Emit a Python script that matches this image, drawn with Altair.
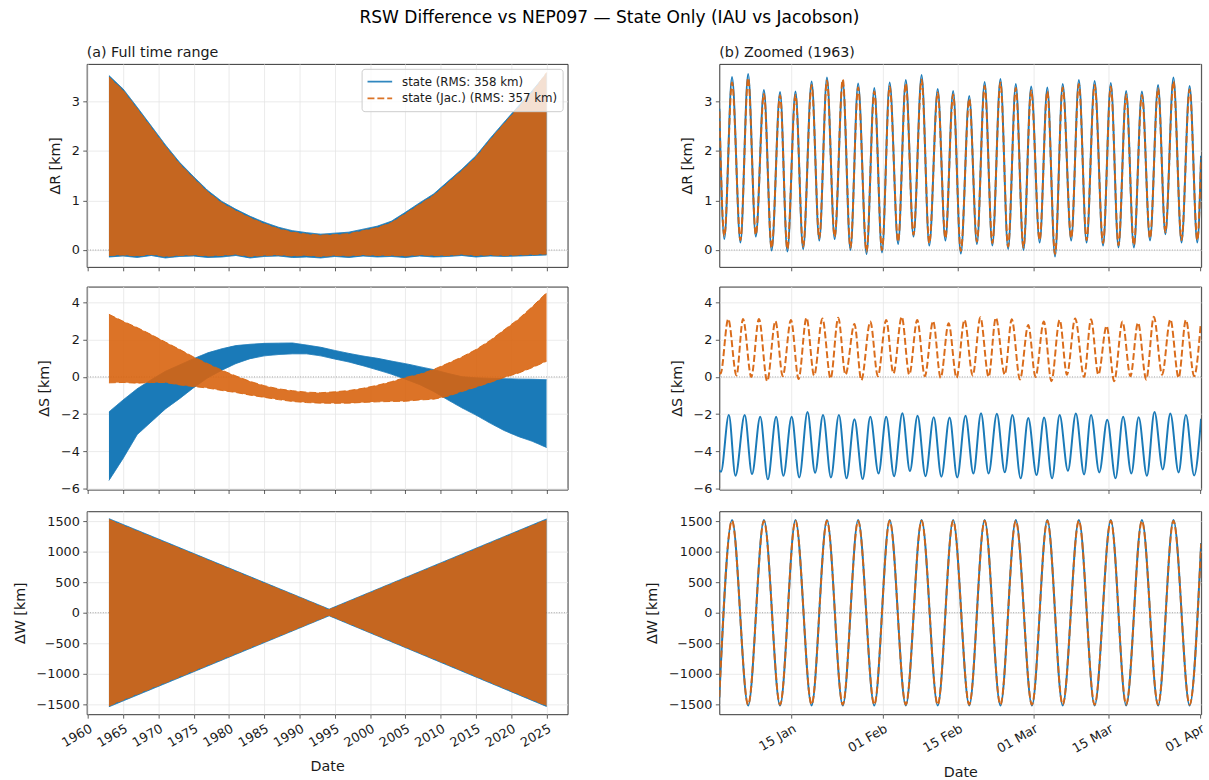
import altair as alt
import pandas as pd

FONT = "DejaVu Sans"
BLUE = "#1a7ab8"
ORANGE = "#d8640f"
NAME_A = "state (RMS: 358 km)"
NAME_B = "state (Jac.) (RMS: 357 km)"

# ---------------- full time range: envelope of the fast oscillation ----------------
env_years = [1963, 1965, 1967, 1969, 1971, 1973, 1975, 1977, 1979, 1981, 1983, 1985,
             1987, 1989, 1991, 1993, 1995, 1997, 1999, 2001, 2003, 2005, 2007, 2009,
             2011, 2013, 2015, 2017, 2019, 2021, 2023, 2025]

# radial
dr_a_hi = [3.52, 3.25, 2.88, 2.50, 2.12, 1.77, 1.48, 1.20, 0.98, 0.82, 0.68, 0.56,
           0.46, 0.39, 0.35, 0.32, 0.34, 0.36, 0.42, 0.48, 0.58, 0.76, 0.95, 1.13,
           1.38, 1.63, 1.90, 2.25, 2.58, 2.90, 3.22, 3.56]
dr_a_lo = [-0.14, -0.12, -0.15, -0.11, -0.16, -0.13, -0.12, -0.15, -0.14, -0.11, -0.16, -0.13,
           -0.12, -0.15, -0.14, -0.16, -0.13, -0.15, -0.12, -0.14, -0.13, -0.15, -0.12, -0.14,
           -0.13, -0.11, -0.14, -0.12, -0.13, -0.12, -0.11, -0.10]
dr_b_hi = [3.49, 3.22, 2.85, 2.47, 2.09, 1.74, 1.45, 1.17, 0.95, 0.79, 0.65, 0.53,
           0.43, 0.36, 0.32, 0.30, 0.31, 0.33, 0.39, 0.45, 0.55, 0.73, 0.92, 1.10,
           1.35, 1.60, 1.87, 2.22, 2.55, 2.87, 3.19, 3.58]
dr_b_lo = [-0.11, -0.10, -0.12, -0.09, -0.13, -0.11, -0.10, -0.12, -0.11, -0.09, -0.13, -0.11,
           -0.10, -0.12, -0.11, -0.13, -0.11, -0.12, -0.10, -0.11, -0.11, -0.12, -0.10, -0.11,
           -0.11, -0.09, -0.11, -0.10, -0.11, -0.10, -0.09, -0.08]

# along-track
ds_a_hi = [-1.88, -1.24, -0.64, -0.15, 0.30, 0.64, 0.98, 1.29, 1.51, 1.68, 1.75, 1.80,
           1.81, 1.82, 1.71, 1.59, 1.42, 1.26, 1.12, 1.00, 0.85, 0.71, 0.55, 0.39,
           0.19, 0.01, -0.05, -0.08, -0.10, -0.12, -0.13, -0.15]
ds_a_lo = [-5.56, -4.38, -3.10, -2.41, -1.72, -1.17, -0.58, -0.05, 0.36, 0.72, 0.98, 1.13,
           1.20, 1.24, 1.24, 1.13, 0.96, 0.80, 0.60, 0.38, 0.15, -0.12, -0.41, -0.78,
           -1.23, -1.66, -2.05, -2.48, -2.88, -3.20, -3.46, -3.79]
ds_b_hi = [3.36, 2.99, 2.65, 2.27, 1.87, 1.48, 1.07, 0.71, 0.36, 0.05, -0.24, -0.47,
           -0.64, -0.74, -0.82, -0.85, -0.80, -0.73, -0.61, -0.45, -0.26, -0.03, 0.14, 0.40,
           0.73, 1.07, 1.47, 1.96, 2.53, 3.10, 3.78, 4.52]
ds_b_lo = [-0.32, -0.30, -0.34, -0.30, -0.30, -0.43, -0.52, -0.60, -0.73, -0.84, -0.98, -1.10,
           -1.22, -1.32, -1.38, -1.41, -1.42, -1.41, -1.37, -1.34, -1.32, -1.31, -1.24, -1.20,
           -1.04, -0.79, -0.55, -0.30, -0.03, 0.20, 0.50, 0.84]

# cross-track (amplitude shrinks to a node and grows again)
dw_years = [1963, 1994.2, 2025]
dw_a_hi = [1540, 58, 1535]
dw_a_lo = [-1540, -50, -1535]
dw_b_hi = [1525, 50, 1522]
dw_b_lo = [-1525, -42, -1522]

# ---------------- zoomed window (days since 1963-01-01), alternating extrema ----------------
dr_days = [0.55, 1.48, 2.91, 4.48, 5.91, 7.34, 8.85, 10.28, 11.85, 13.21,
           14.72, 16.15, 17.72, 19.15, 20.58, 22.01, 23.52, 24.95, 26.38, 27.95,
           29.39, 30.82, 32.25, 33.82, 35.25, 36.68, 38.19, 39.62, 41.19, 42.62,
           44.06, 45.49, 47.06, 48.49, 49.92, 51.36, 52.86, 54.29, 55.72, 57.15,
           58.58, 60.16, 61.59, 63.02, 64.45, 66.03, 67.46, 68.89, 70.39, 71.96,
           73.40, 74.83, 76.26, 77.69, 79.19, 80.70, 82.20, 83.56, 85.06, 86.56,
           88.07, 89.50, 90.20]
dr_a_zoom = [2.85, 0.22, 3.49, 0.15, 3.55, 0.27, 3.23, -0.01, 3.19, -0.03,
             3.20, 0.02, 3.40, 0.19, 3.48, 0.22, 3.40, 0.00, 3.36, -0.08,
             3.27, -0.05, 3.38, 0.12, 3.43, 0.27, 3.53, 0.09, 3.25, 0.19,
             3.21, -0.07, 3.11, 0.12, 3.39, 0.09, 3.45, 0.02, 3.35, 0.00,
             3.30, 0.15, 3.28, -0.13, 3.35, 0.19, 3.43, 0.15, 3.41, 0.09,
             3.37, 0.05, 3.21, 0.05, 3.20, 0.19, 3.33, 0.32, 3.48, 0.15,
             3.31, 0.15, 1.90]
dr_b_zoom = [2.80, 0.28, 3.38, 0.20, 3.47, 0.31, 3.15, 0.04, 3.12, 0.02,
             3.13, 0.07, 3.33, 0.24, 3.42, 0.27, 3.44, 0.05, 3.28, -0.03,
             3.20, 0.00, 3.30, 0.17, 3.36, 0.31, 3.44, 0.14, 3.18, 0.24,
             3.14, -0.02, 3.05, 0.17, 3.31, 0.14, 3.38, 0.07, 3.27, 0.05,
             3.22, 0.20, 3.20, -0.08, 3.28, 0.24, 3.35, 0.20, 3.33, 0.14,
             3.30, 0.10, 3.14, 0.10, 3.13, 0.24, 3.26, 0.36, 3.40, 0.20,
             3.24, 0.20, 1.85]

ds_a_days = [0.54, 0.85, 2.32, 3.55, 5.27, 6.63, 8.16, 9.58, 11.12, 12.47,
             14.01, 15.42, 16.96, 18.37, 19.85, 21.32, 22.80, 24.22, 25.69, 27.23,
             28.64, 30.18, 31.60, 33.07, 34.61, 36.02, 37.44, 38.91, 40.45, 41.87,
             43.40, 44.82, 46.36, 47.83, 49.25, 50.66, 52.20, 53.67, 55.09, 56.63,
             58.04, 59.58, 60.99, 62.47, 63.88, 65.42, 66.90, 68.43, 69.72, 71.26,
             72.74, 74.28, 75.69, 77.23, 78.58, 80.12, 81.53, 83.07, 84.48, 86.02,
             87.38, 88.91, 90.20]
ds_a_zoom = [-5.00, -5.10, -2.04, -5.31, -2.05, -5.22, -2.14, -5.50, -2.14, -5.31,
             -2.14, -5.40, -1.89, -5.15, -2.05, -5.40, -2.04, -5.45, -2.27, -5.49,
             -2.14, -5.19, -2.14, -5.33, -1.95, -5.06, -2.09, -5.33, -2.16, -5.36,
             -2.18, -5.40, -2.09, -5.19, -1.95, -5.19, -1.98, -5.12, -2.05, -5.45,
             -2.21, -5.27, -2.18, -5.45, -2.05, -5.04, -1.96, -5.24, -2.04, -5.13,
             -2.30, -5.45, -2.14, -5.19, -2.16, -5.31, -1.88, -4.97, -1.96, -5.13,
             -2.04, -5.29, -2.25]

ds_b_days = [0.54, 0.78, 2.20, 3.74, 4.96, 6.50, 7.92, 9.46, 10.99, 12.35,
             13.88, 15.30, 16.77, 18.19, 19.73, 21.26, 22.68, 24.03, 25.69, 26.98,
             28.64, 30.06, 31.60, 32.95, 34.49, 35.90, 37.38, 38.79, 40.33, 41.74,
             43.22, 44.70, 46.17, 47.71, 49.12, 50.66, 52.01, 53.67, 54.97, 56.50,
             58.04, 59.39, 60.93, 62.35, 63.88, 65.24, 66.77, 68.43, 69.72, 71.08,
             72.62, 74.03, 75.57, 77.05, 78.46, 80.00, 81.41, 82.95, 84.48, 86.02,
             87.38, 88.91, 90.14]
ds_b_zoom = [0.25, 0.18, 3.11, 0.07, 3.11, 0.00, 3.11, -0.23, 3.00, 0.04,
             3.06, -0.11, 3.18, 0.07, 3.14, -0.09, 3.18, 0.12, 2.84, -0.18,
             2.97, 0.04, 3.06, 0.18, 3.23, 0.12, 3.06, 0.04, 3.00, -0.05,
             2.88, -0.05, 3.06, 0.07, 3.20, 0.00, 3.18, 0.12, 3.09, -0.14,
             2.79, 0.00, 2.97, -0.23, 3.06, 0.12, 3.14, 0.00, 3.09, 0.12,
             2.74, -0.23, 2.97, 0.04, 2.91, -0.14, 3.23, 0.12, 3.09, -0.05,
             3.06, 0.04, 2.88]

dw_days = [0.54, 2.91, 5.91, 8.85, 11.85, 14.72, 17.72, 20.58, 23.52, 26.38,
           29.39, 32.25, 35.25, 38.19, 41.19, 44.06, 47.06, 49.92, 52.86, 55.72,
           58.73, 61.59, 64.45, 67.46, 70.39, 73.40, 76.26, 79.19, 82.20, 85.06,
           88.07, 90.21]
dw_a_zoom = [-1390, 1520, -1520, 1518, -1520, 1520, -1518, 1520, -1520, 1518,
             -1520, 1520, -1518, 1520, -1520, 1520, -1518, 1520, -1520, 1518,
             -1520, 1520, -1518, 1520, -1520, 1520, -1518, 1520, -1520, 1518,
             -1520, 1140]
dw_b_zoom = [-1380, 1505, -1505, 1503, -1505, 1505, -1503, 1505, -1505, 1503,
             -1505, 1505, -1503, 1505, -1505, 1505, -1503, 1505, -1505, 1503,
             -1505, 1505, -1503, 1505, -1505, 1505, -1503, 1505, -1505, 1503,
             -1505, 1130]

year_ticks = [1960, 1965, 1970, 1975, 1980, 1985, 1990, 1995, 2000, 2005, 2010, 2015, 2020, 2025]
date_ticks = [(1, 15), (2, 1), (2, 15), (3, 1), (3, 15), (4, 1)]


def year_ts(y):
    base = pd.Timestamp(year=int(y), month=1, day=1)
    return base + pd.Timedelta(days=(y - int(y)) * 365.25)


def day_ts(d):
    return pd.Timestamp("1963-01-01") + pd.Timedelta(days=d)


def band_frame(years, lo, hi):
    return pd.DataFrame({"t": [year_ts(y) for y in years], "lo": lo, "hi": hi})


def edge_frame(years, lo, hi, name):
    rows = []
    for edge, vals in (("lo", lo), ("hi", hi)):
        for y, v in zip(years, vals):
            rows.append({"t": year_ts(y), "v": v, "series": name, "edge": edge})
    return pd.DataFrame(rows)


def curve_frame(days, vals):
    return pd.DataFrame({"t": [day_ts(d) for d in days], "v": vals})


LEFT_DOMAIN = [alt.DateTime(year=1959, month=11, date=7),
               alt.DateTime(year=2027, month=12, date=24)]
RIGHT_DOMAIN = [alt.DateTime(year=1963, month=1, date=1, hours=13),
                alt.DateTime(year=1963, month=4, date=1, hours=5)]

W_LEFT, W_RIGHT, H = 488, 489, 206


def x_axis(values, fmt, bottom):
    if bottom:
        return alt.Axis(values=values, format=fmt, labelAngle=-30, labelAlign="right",
                        labelBaseline="top", tickSize=4, labelPadding=4, title="Date",
                        titlePadding=10, grid=True)
    return alt.Axis(values=values, labels=False, title=None, tickSize=4, grid=True)


def y_axis(title, ticks):
    return alt.Axis(title=title, values=ticks, format="d", tickSize=4, labelPadding=3.5,
                    titlePadding=9, grid=True)


def zero_rule(yenc):
    return alt.Chart(pd.DataFrame({"v": [0.0]})).mark_rule(
        color="#8c8c8c", strokeWidth=0.8, strokeDash=[1, 1.6]
    ).encode(y=yenc)


def legend_spec():
    return alt.Legend(title=None, orient="top-right", offset=5, symbolType="stroke",
                      symbolSize=625, symbolStrokeWidth=2, labelFontSize=12, labelFont=FONT,
                      labelColor="#1a1a1a", fillColor="rgba(255,255,255,0.8)",
                      strokeColor="#cccccc", cornerRadius=3, padding=5, rowPadding=1,
                      labelOffset=9, clipHeight=16, labelLimit=300)


def panel_title(text):
    return alt.TitleParams(text=text, anchor="start", frame="group", fontSize=14.5, font=FONT,
                           fontWeight="normal", color="#1a1a1a", offset=-10, baseline="bottom")


def left_panel(years, a_lo, a_hi, b_lo, b_hi, ydom, yticks, ytitle, bottom=False,
               legend=False, title=None):
    xvals = [alt.DateTime(year=y, month=1, date=1) for y in year_ticks]
    x = alt.X("t:T", scale=alt.Scale(domain=LEFT_DOMAIN, nice=False),
              axis=x_axis(xvals, "%Y", bottom))
    ys = alt.Scale(domain=ydom, nice=False, zero=False)
    yax = y_axis(ytitle, yticks)

    band_a = alt.Chart(band_frame(years, a_lo, a_hi)).mark_area(
        color=BLUE, opacity=1, clip=True
    ).encode(x=x, y=alt.Y("lo:Q", scale=ys, axis=yax), y2="hi:Q")
    band_b = alt.Chart(band_frame(years, b_lo, b_hi)).mark_area(
        color=ORANGE, opacity=0.9, clip=True
    ).encode(x=x, y=alt.Y("lo:Q", scale=ys, axis=yax), y2="hi:Q")

    leg = legend_spec() if legend else None
    color = alt.Color("series:N", scale=alt.Scale(domain=[NAME_A, NAME_B], range=[BLUE, ORANGE]),
                      legend=leg)
    dash = alt.StrokeDash("series:N",
                          scale=alt.Scale(domain=[NAME_A, NAME_B], range=[[1, 0], [7, 3]]),
                          legend=leg)
    edges_a = alt.Chart(edge_frame(years, a_lo, a_hi, NAME_A)).mark_line(
        strokeWidth=1, clip=True
    ).encode(x=x, y=alt.Y("v:Q", scale=ys, axis=yax), color=color, strokeDash=dash,
             detail="edge:N")
    edges_b = alt.Chart(edge_frame(years, b_lo, b_hi, NAME_B)).mark_line(
        strokeWidth=1, clip=True, opacity=0.9
    ).encode(x=x, y=alt.Y("v:Q", scale=ys, axis=yax), color=color, strokeDash=dash,
             detail="edge:N")

    zero = zero_rule(alt.Y("v:Q", scale=ys, axis=yax))
    chart = alt.layer(zero, band_a, edges_a, band_b, edges_b).properties(width=W_LEFT, height=H)
    if title:
        chart = chart.properties(title=panel_title(title))
    return chart


def right_panel(a_days, a_vals, b_days, b_vals, ydom, yticks, ytitle, bottom=False,
                title=None):
    xvals = [alt.DateTime(year=1963, month=m, date=d) for m, d in date_ticks]
    x = alt.X("t:T", scale=alt.Scale(domain=RIGHT_DOMAIN, nice=False),
              axis=x_axis(xvals, "%d %b", bottom))
    ys = alt.Scale(domain=ydom, nice=False, zero=False)
    yax = y_axis(ytitle, yticks)
    line_a = alt.Chart(curve_frame(a_days, a_vals)).mark_line(
        color=BLUE, strokeWidth=2, interpolate="monotone", clip=True
    ).encode(x=x, y=alt.Y("v:Q", scale=ys, axis=yax))
    line_b = alt.Chart(curve_frame(b_days, b_vals)).mark_line(
        color=ORANGE, strokeWidth=2, strokeDash=[7, 3], opacity=0.95,
        interpolate="monotone", clip=True
    ).encode(x=x, y=alt.Y("v:Q", scale=ys, axis=yax))
    zero = zero_rule(alt.Y("v:Q", scale=ys, axis=yax))
    chart = alt.layer(zero, line_a, line_b).properties(width=W_RIGHT, height=H)
    if title:
        chart = chart.properties(title=panel_title(title))
    return chart


DR_DOM, DR_TICKS = [-0.34, 3.755], [0, 1, 2, 3]
DS_DOM, DS_TICKS = [-6.05, 4.85], [-6, -4, -2, 0, 2, 4]
DW_DOM, DW_TICKS = [-1662, 1662], [-1500, -1000, -500, 0, 500, 1000, 1500]

tl = left_panel(env_years, dr_a_lo, dr_a_hi, dr_b_lo, dr_b_hi, DR_DOM, DR_TICKS, "ΔR [km]",
                legend=True, title="(a) Full time range")
tr = right_panel(dr_days, dr_a_zoom, dr_days, dr_b_zoom, DR_DOM, DR_TICKS, "ΔR [km]",
                 title="(b) Zoomed (1963)")
ml = left_panel(env_years, ds_a_lo, ds_a_hi, ds_b_lo, ds_b_hi, DS_DOM, DS_TICKS, "ΔS [km]")
mr = right_panel(ds_a_days, ds_a_zoom, ds_b_days, ds_b_zoom, DS_DOM, DS_TICKS, "ΔS [km]")
bl = left_panel(dw_years, dw_a_lo, dw_a_hi, dw_b_lo, dw_b_hi, DW_DOM, DW_TICKS, "ΔW [km]",
                bottom=True)
br = right_panel(dw_days, dw_a_zoom, dw_days, dw_b_zoom, DW_DOM, DW_TICKS, "ΔW [km]",
                 bottom=True)

chart = alt.concat(
    tl, tr, ml, mr, bl, br, columns=2, spacing={"row": 14, "column": 77}
).properties(
    title=alt.TitleParams(
        text="RSW Difference vs NEP097 — State Only (IAU vs Jacobson)",
        fontSize=17.3, font=FONT, fontWeight="normal", color="#000000",
        anchor="middle", offset=18),
    padding={"left": 12, "top": 3, "right": 2, "bottom": 0},
).resolve_scale(
    x="independent", y="independent", color="independent", strokeDash="independent"
).configure(
    font=FONT
).configure_axis(
    labelFont=FONT, titleFont=FONT, labelFontSize=13, titleFontSize=14.5,
    titleFontWeight="normal", labelColor="#1a1a1a", titleColor="#1a1a1a",
    tickColor="#333333", tickWidth=0.8, gridColor="#e6e6e6", gridWidth=0.8, domain=False
).configure_view(
    stroke="#333333", strokeWidth=1
)

chart.save("out.html", embed_options={"renderer": "svg", "actions": False})
